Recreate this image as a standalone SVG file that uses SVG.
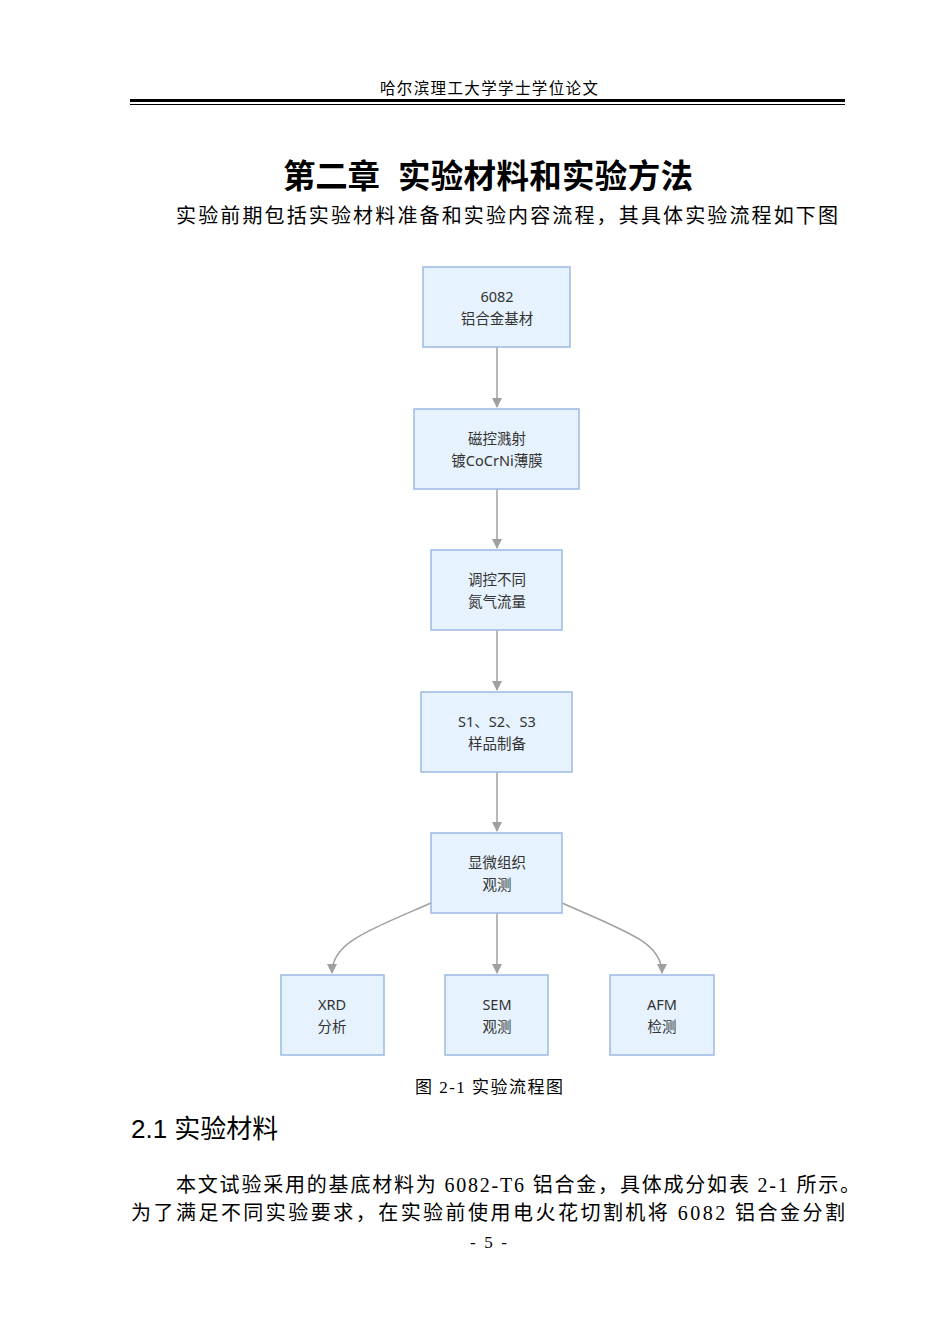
<svg xmlns="http://www.w3.org/2000/svg" width="950" height="1342" viewBox="0 0 950 1342">
<style>
.serif{font-family:"Liberation Serif","Noto Sans CJK SC",serif;fill:#000}
.node rect{fill:#e6f2fd;stroke:#9cb9e2;stroke-width:1.5}
.node text{font-family:"Noto Sans","Noto Sans CJK SC",sans-serif;font-size:14.5px;fill:#333;text-anchor:middle}
.conn path{fill:none;stroke:#a0a0a0;stroke-width:1.5}
</style>
<defs>
<marker id="arr" viewBox="0 0 10 10" refX="9" refY="5" markerWidth="10" markerHeight="10" markerUnits="userSpaceOnUse" orient="auto">
<path d="M0,0 L10,5 L0,10 z" fill="#a0a0a0"/>
</marker>
</defs>
<rect width="950" height="1342" fill="#fff"/>
<!-- header -->
<text class="serif" x="380" y="94" font-size="15.5" textLength="218" lengthAdjust="spacing" fill="#222">哈尔滨理工大学学士学位论文</text>
<rect x="130" y="99" width="715" height="3" fill="#000"/>
<rect x="130" y="104" width="715" height="1" fill="#000"/>
<!-- title -->
<g font-family="'Liberation Sans','Noto Sans CJK SC',sans-serif" font-weight="bold" font-size="32.5">
<text x="283" y="188" textLength="97" lengthAdjust="spacing">第二章</text>
<text x="398" y="188" textLength="295" lengthAdjust="spacing">实验材料和实验方法</text>
</g>
<text class="serif" x="176" y="223" font-size="20" textLength="662" lengthAdjust="spacing">实验前期包括实验材料准备和实验内容流程，其具体实验流程如下图</text>
<!-- connectors -->
<g class="conn">
<path d="M497,347 V407" marker-end="url(#arr)"/>
<path d="M497,489 V548" marker-end="url(#arr)"/>
<path d="M497,630 V690" marker-end="url(#arr)"/>
<path d="M497,772 V831" marker-end="url(#arr)"/>
<path d="M497,913 V973" marker-end="url(#arr)"/>
<path d="M431,903 C365,932 332,943 332,973" marker-end="url(#arr)"/>
<path d="M562,903 C628,932 662,943 662,973" marker-end="url(#arr)"/>
</g>
<!-- nodes -->
<g id="n1" class="node"><rect x="423" y="267" width="147" height="80"/><text x="497" y="302">6082</text><text x="497" y="324">铝合金基材</text></g>
<g id="n2" class="node"><rect x="414" y="409" width="165" height="80"/><text x="497" y="444">磁控溅射</text><text x="497" y="466">镀CoCrNi薄膜</text></g>
<g id="n3" class="node"><rect x="431" y="550" width="131" height="80"/><text x="497" y="585">调控不同</text><text x="497" y="607">氮气流量</text></g>
<g id="n4" class="node"><rect x="421" y="692" width="151" height="80"/><text x="497" y="727">S1、S2、S3</text><text x="497" y="749">样品制备</text></g>
<g id="n5" class="node"><rect x="431" y="833" width="131" height="80"/><text x="497" y="868">显微组织</text><text x="497" y="890">观测</text></g>
<g id="n6" class="node"><rect x="281" y="975" width="103" height="80"/><text x="332" y="1010">XRD</text><text x="332" y="1032">分析</text></g>
<g id="n7" class="node"><rect x="445" y="975" width="103" height="80"/><text x="497" y="1010">SEM</text><text x="497" y="1032">观测</text></g>
<g id="n8" class="node"><rect x="610" y="975" width="104" height="80"/><text x="662" y="1010">AFM</text><text x="662" y="1032">检测</text></g>
<!-- caption & body -->
<text class="serif" x="415" y="1093" font-size="17" textLength="148" lengthAdjust="spacing">图 2-1 实验流程图</text>
<text x="131" y="1138" font-family="'Liberation Sans','Noto Sans CJK SC',sans-serif" font-size="26">2.1 实验材料</text>
<text class="serif" x="176" y="1192" font-size="20" textLength="684" lengthAdjust="spacing">本文试验采用的基底材料为 6082-T6 铝合金，具体成分如表 2-1 所示。</text>
<text class="serif" x="131" y="1220" font-size="20" textLength="714" lengthAdjust="spacing">为了满足不同实验要求，在实验前使用电火花切割机将 6082 铝合金分割</text>
<text class="serif" x="470" y="1248" font-size="17" textLength="37" lengthAdjust="spacing">- 5 -</text>
</svg>
